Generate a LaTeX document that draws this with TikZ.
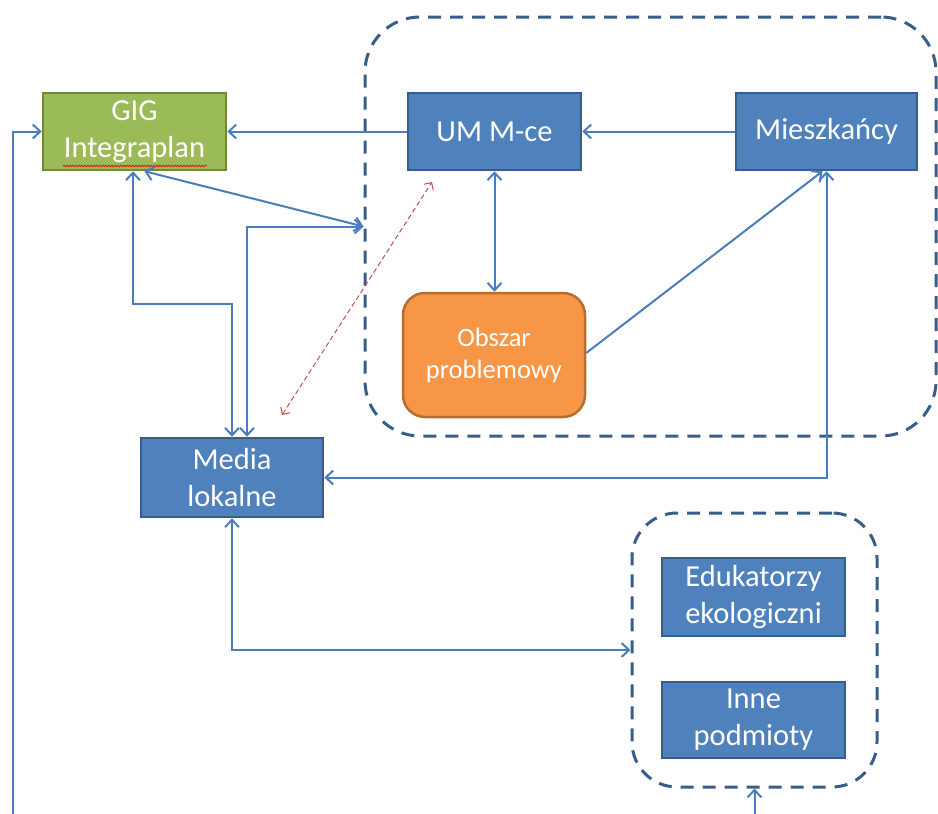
\documentclass[tikz,border=0pt]{standalone}
\usepackage{fontspec}
\setmainfont{Carlito}
\usetikzlibrary{arrows.meta,calc,decorations.pathmorphing}
\definecolor{boxblue}{HTML}{4F81BD}
\definecolor{boxborder}{HTML}{385D8A}
\definecolor{lineblue}{HTML}{4A7EBB}
\definecolor{gigfill}{HTML}{9BBB59}
\definecolor{gigborder}{HTML}{71893F}
\definecolor{orfill}{HTML}{F79646}
\definecolor{orborder}{HTML}{B66D31}
\definecolor{redline}{HTML}{C0504D}
\begin{document}
\begin{tikzpicture}[x=1pt,y=-1pt,
  >={Straight Barb[length=7.5pt,width=14pt]},
  basebox/.style={line width=2.5pt, text=white, align=center, inner sep=0pt,
    font=\fontsize{30.5}{37}\selectfont},
  bluebox/.style={basebox, draw=boxborder, fill=boxblue},
  gigbox/.style={basebox, draw=gigborder, fill=gigfill},
  orbox/.style={basebox, draw=orborder, fill=orfill, rounded corners=22pt,
    font=\fontsize{26.5}{32}\selectfont},
  container/.style={draw=boxborder, line width=3pt, dash pattern=on 13pt off 9pt, inner sep=0pt},
  conn/.style={draw=lineblue, line width=2pt},
  redconn/.style={draw=redline, line width=1pt, dash pattern=on 5pt off 3pt,
    {Straight Barb[length=5.5pt,width=11pt]}-{Straight Barb[length=5.5pt,width=11pt]}}
]
\useasboundingbox (0,0) rectangle (938,814);

% containers
\node[container, rounded corners=55pt, minimum width=571pt, minimum height=419pt] (big) at (650.5,226.5) {};
\node[container, rounded corners=45pt, minimum width=245pt, minimum height=274pt] (small) at (754.5,650) {};

% boxes
\node[gigbox, minimum width=183pt, minimum height=77pt] (GIG) at (134.5,131.5) {GIG\\Integraplan};
\node[bluebox, minimum width=173pt, minimum height=77pt] (UM) at (494.5,131.5) {UM M-ce};
\node[bluebox, minimum width=181pt, minimum height=77pt] (Miesz) at (826.5,131.5) {Mieszkańcy};
\node[orbox, minimum width=182pt, minimum height=124pt] (Obszar) at (494,355) {Obszar\\problemowy};
\node[bluebox, minimum width=182pt, minimum height=79pt] (Media) at (232,477.5) {Media\\lokalne};
\node[bluebox, minimum width=183pt, minimum height=78pt] (Edu) at (753.5,597) {Edukatorzy\\ekologiczni};
\node[bluebox, minimum width=183pt, minimum height=76pt] (Inne) at (753.5,720) {Inne\\podmioty};

% spell-check squiggle
\draw[red, line width=0.7pt, decorate, decoration={snake, amplitude=0.9pt, segment length=3pt}] (63,166) -- (207,166);

% free ends
\coordinate (botleft) at (13,814);
\coordinate (botmid) at (754.5,814);
\coordinate (red1) at (282,415);
\coordinate (red2) at (432,182);

% connectors
\draw[conn,->] (UM.west) -- (GIG.east);
\draw[conn,->] (Miesz.west) -- (UM.east);
\draw[conn,<->] (UM.south) -- (UM.south |- Obszar.north);
\draw[conn,->] ($(Obszar.east)+(0,-2)$) -- ([xshift=-4pt]Miesz.south);
\draw[conn,<->] (Miesz.south) |- (Media.east);
\draw[conn,->] (botleft) |- (GIG.west);
\draw[conn,<->] ([xshift=-1.5pt]GIG.south) -- ++(0,133) -| (Media.north);
\draw[conn,<->] ([xshift=15pt]Media.north) |- (big.west);
\draw[conn,<->] ([xshift=10pt]GIG.south) -- (big.west);
\draw[conn,<->] (Media.south) |- (small.west);
\draw[conn,->] (botmid) -- (small.south);
\draw[redconn] (red1) -- (red2);
\end{tikzpicture}
\end{document}
